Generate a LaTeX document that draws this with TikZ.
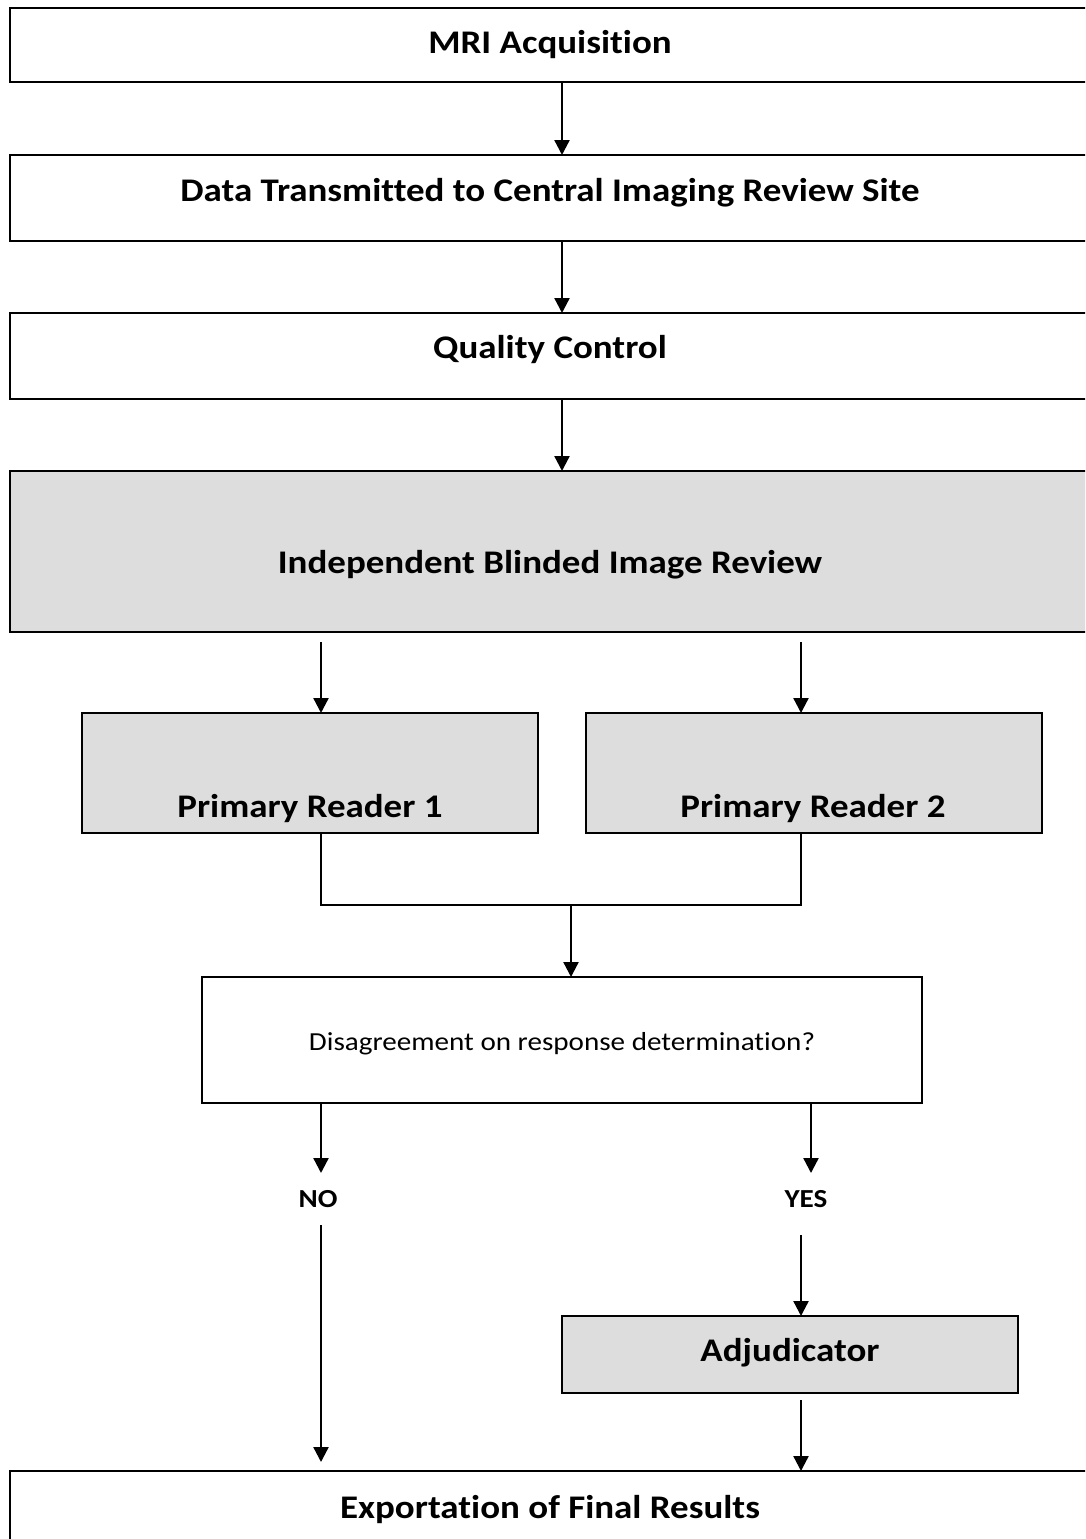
\documentclass[tikz,border=0pt]{standalone}
\usepackage{fontspec}
\setmainfont{Carlito}[FakeStretch=1.12,Ligatures=NoCommon]
\usetikzlibrary{arrows.meta}
\definecolor{boxgray}{HTML}{DDDDDD}
\begin{document}
\begin{tikzpicture}[x=1pt,y=-1pt,
  box/.style={draw=black, line width=2.5pt, fill=white, inner sep=0pt, outer sep=0pt, anchor=north west},
  gbox/.style={box, fill=boxgray},
  lbl/.style={font=\bfseries\fontsize{33}{38}\selectfont, inner sep=0pt, anchor=base},
  slbl/.style={font=\fontsize{26}{30}\selectfont, inner sep=0pt, anchor=base},
  nlbl/.style={font=\bfseries\fontsize{26}{30}\selectfont, inner sep=0pt, anchor=base},
  arr/.style={line width=2.3pt, -{Triangle[length=15pt,width=15pt]}},
  ln/.style={line width=2.3pt}]
\useasboundingbox (0,0) rectangle (1085,1539);
\clip (0,0) rectangle (1085,1539);

% boxes
\node[box, minimum width=1095pt, minimum height=74pt] (b1) at (10,8) {};
\node[box, minimum width=1095pt, minimum height=86pt] (b2) at (10,155) {};
\node[box, minimum width=1095pt, minimum height=86pt] (b3) at (10,313) {};
\node[gbox, minimum width=1095pt, minimum height=161pt] (b4) at (10,471) {};
\node[gbox, minimum width=456pt, minimum height=120pt] (r1) at (82,713) {};
\node[gbox, minimum width=456pt, minimum height=120pt] (r2) at (586,713) {};
\node[box, minimum width=720pt, minimum height=126pt] (dq) at (202,977) {};
\node[gbox, minimum width=456pt, minimum height=77pt] (adj) at (562,1316) {};
\node[box, minimum width=1095pt, minimum height=100pt] (fin) at (10,1471) {};

% labels
\node[lbl] (t1) at (550,53.5) {MRI Acquisition};
\node[lbl] (t2) at (550,201) {Data Transmitted to Central Imaging Review Site};
\node[lbl] (t3) at (550,358) {Quality Control};
\node[lbl] (t4) at (550,573) {Independent Blinded Image Review};
\node[lbl] (tr1) at (310,817) {Primary Reader 1};
\node[lbl] (tr2) at (813,817) {Primary Reader 2};
\node[slbl] (tdq) at (562,1050) {Disagreement on response determination?};
\node[nlbl] (no) at (318,1207) {NO};
\node[nlbl] (yes) at (806,1207) {YES};
\node[lbl] (tadj) at (790,1361) {Adjudicator};
\node[lbl] (tfin) at (550,1518) {Exportation of Final Results};

% free-end coordinates
\coordinate (m) at (571,905);
\coordinate (s1) at (321,642);
\coordinate (s2) at (801,642);
\coordinate (noa) at (321,1173);
\coordinate (yesa) at (811,1173);
\coordinate (nob) at (321,1225);
\coordinate (noend) at (321,1462);
\coordinate (yesb) at (801,1235);
\coordinate (adjs) at (801,1400);

% connectors
\draw[arr] (b1.south -| 562,0) -- (b2.north -| 562,0);
\draw[arr] (b2.south -| 562,0) -- (b3.north -| 562,0);
\draw[arr] (b3.south -| 562,0) -- (b4.north -| 562,0);
\draw[arr] (s1) -- (r1.north -| s1);
\draw[arr] (s2) -- (r2.north -| s2);
\draw[ln] (r1.south -| s1) |- (m) -| (r2.south -| s2);
\draw[arr] (m) -- (dq.north -| m);
\draw[arr] (dq.south -| noa) -- (noa);
\draw[arr] (dq.south -| yesa) -- (yesa);
\draw[arr] (nob) -- (noend);
\draw[arr] (yesb) -- (adj.north -| yesb);
\draw[arr] (adjs) -- (fin.north -| adjs);
\end{tikzpicture}
\end{document}
